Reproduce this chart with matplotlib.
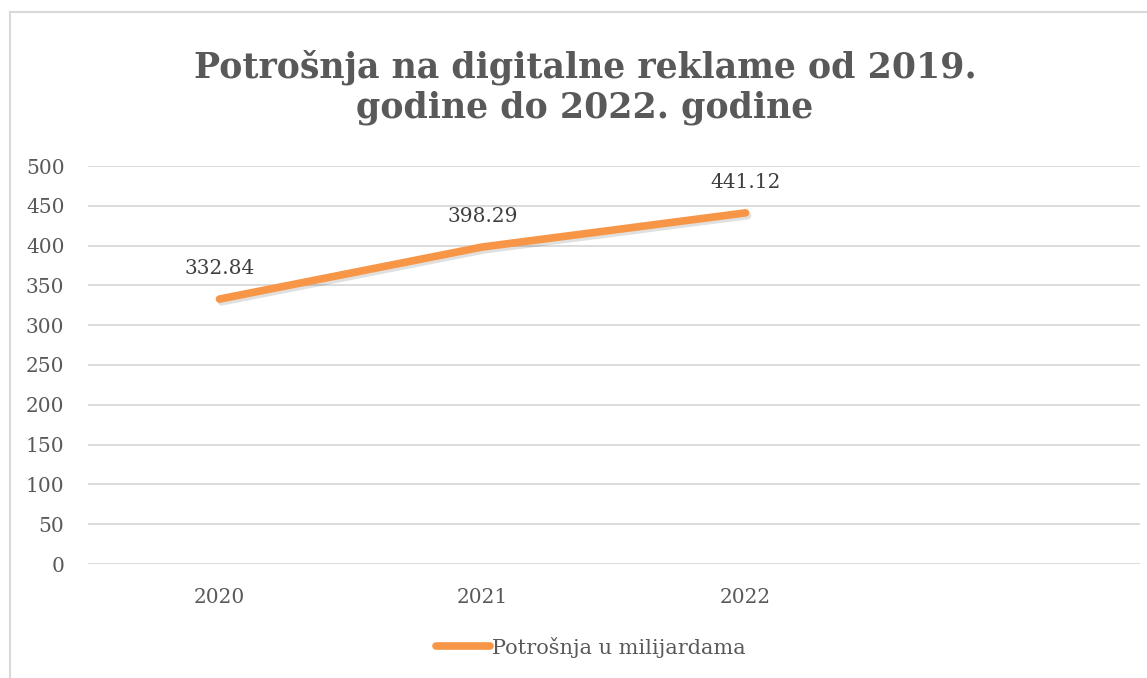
import matplotlib
matplotlib.use("Agg")
import matplotlib.pyplot as plt
import matplotlib.patheffects as pe
from matplotlib.lines import Line2D

categories = ['2020', '2021', '2022', '']
years = ['2020', '2021', '2022']
values = [332.84, 398.29, 441.12]
series_name = 'Potrošnja u milijardama'
title = 'Potrošnja na digitalne reklame od 2019.\ngodine do 2022. godine'

orange = '#F79646'
grey = '#595959'
serif = ['DejaVu Serif']

fig = plt.figure(figsize=(11.47, 6.78), dpi=100)
ax = fig.add_axes([88 / 1147, 1 - 564 / 678, (1140 - 88) / 1147, (564 - 166) / 678])

# chart frame (cut at the right and bottom like the screenshot)
fig.add_artist(Line2D([10 / 1147, 10 / 1147], [0, 1 - 12 / 678], transform=fig.transFigure, color='#d9d9d9', lw=1.5))
fig.add_artist(Line2D([10 / 1147, 1], [1 - 12 / 678, 1 - 12 / 678], transform=fig.transFigure, color='#d9d9d9', lw=1.5))

x = list(range(len(years)))
ax.plot(x, values, color=orange, lw=5.5, solid_capstyle='round', solid_joinstyle='round',
        path_effects=[pe.SimpleLineShadow(offset=(1.5, -2), shadow_color='#000000', alpha=0.12), pe.Normal()],
        zorder=3)
for xi, v in zip(x, values):
    ax.annotate(f'{v:.2f}', (xi, v), xytext=(0, 15), textcoords='offset points', ha='center', va='bottom',
                fontsize=14.5, color='#404040', family=serif)

ax.set_xlim(-0.5, len(categories) - 0.5)
ax.set_ylim(0, 500)
ax.set_yticks(range(0, 501, 50))
ax.set_xticks(range(len(categories)))
ax.set_xticklabels(categories)
ax.grid(axis='y', color='#d9d9d9', lw=1.3)
ax.set_axisbelow(True)
for s in ax.spines.values():
    s.set_visible(False)
ax.tick_params(length=0, labelsize=14.5, labelcolor=grey, pad=17)
ax.tick_params(axis='x', pad=17)
for lab in ax.get_xticklabels() + ax.get_yticklabels():
    lab.set_family(serif)

fig.text(585 / 1147, 1 - 87 / 678, title, ha='center', va='center', fontsize=25, fontweight='bold',
         color=grey, family=serif, linespacing=1.2)

leg = fig.legend([Line2D([0], [0], color=orange, lw=5.5, solid_capstyle='round')], [series_name],
                 loc='center', bbox_to_anchor=(591 / 1147, 1 - 647 / 678), frameon=False,
                 handlelength=2.6, handletextpad=0.1, prop={'family': serif, 'size': 15})
for t in leg.get_texts():
    t.set_color(grey)

fig.savefig('out.png', dpi=100)
